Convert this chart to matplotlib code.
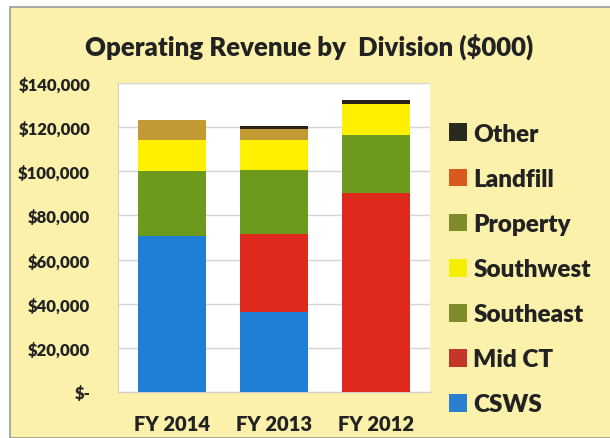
import matplotlib.pyplot as plt
from matplotlib.patches import Patch, Rectangle

plt.rcParams['font.family'] = ['Lato', 'DejaVu Sans']
plt.rcParams['font.weight'] = 'bold'

# values in $
years = ['FY 2014', 'FY 2013', 'FY 2012']
csws = [70500, 36400, 0]
mid_ct = [0, 35400, 90000]
southeast = [29500, 28700, 26400]
southwest = [14200, 13700, 14200]
prop = [9100, 4900, 0]
landfill = [0, 0, 0]
other = [0, 1500, 1800]

series = [
    ('CSWS', csws, '#1f7fd6', '#2a7fd0'),
    ('Mid CT', mid_ct, '#e0291d', '#c4352a'),
    ('Southeast', southeast, '#6b9a1c', '#808b2c'),
    ('Southwest', southwest, '#fff000', '#f6ee00'),
    ('Property', prop, '#c29a33', '#808b2c'),
    ('Landfill', landfill, '#e0601e', '#d95a1f'),
    ('Other', other, '#2a2218', '#2b2a1e'),
]

bg = '#fbf1ab'
fig = plt.figure(figsize=(6.1, 4.39), dpi=100)
fig.patch.set_facecolor('white')
frame = Rectangle((10 / 610, 0), 1, 1 - 8 / 439, transform=fig.transFigure,
                  facecolor=bg, edgecolor='#9a9a9a', linewidth=1.2, zorder=-5)
fig.patches.append(frame)

ax = fig.add_axes([118 / 610, 1 - 393 / 439, 312 / 610, 309 / 439])
ax.set_zorder(2)
ax.set_facecolor('white')

x = range(len(years))
bottom = [0, 0, 0]
for name, vals, col, _ in series:
    ax.bar(x, vals, width=0.667, bottom=bottom, color=col, edgecolor='none', zorder=3)
    bottom = [b + v for b, v in zip(bottom, vals)]

ax.set_ylim(0, 140000)
ax.set_xlim(-0.53, 2.53)
ax.set_yticks(range(0, 140001, 20000))
ax.set_yticklabels(['$-'] + ['${:,.0f}'.format(v) for v in range(20000, 140001, 20000)],
                   fontsize=12, color='#222222', fontweight='heavy')
ax.set_xticks(list(x))
ax.set_xticklabels(years, fontsize=14.5, color='#222222', fontweight='heavy')
ax.tick_params(length=0)
ax.tick_params(axis='y', pad=20)
ax.tick_params(axis='x', pad=16)
ax.grid(axis='y', color='#d4d4d4', linewidth=1, zorder=0)
for s in ax.spines.values():
    s.set_visible(False)
ax.spines['left'].set_visible(True)
ax.spines['left'].set_color('#cfcfcf')
ax.spines['bottom'].set_visible(True)
ax.spines['bottom'].set_color('#cfcfcf')

fig.text(309 / 610, 1 - 47 / 439, 'Operating Revenue by  Division ($000)',
         ha='center', va='center', fontsize=18.5, color='#222222', fontweight='heavy')

handles = [Patch(facecolor=lc, edgecolor='none', label=n) for n, _, _, lc in series[::-1]]
leg = fig.legend(handles=handles, loc='upper left', bbox_to_anchor=(427 / 610, 1 - 102 / 439),
                 frameon=False, prop={'size': 17.5, 'weight': 'heavy'}, handlelength=0.75,
                 handleheight=0.75, handletextpad=0.25, labelspacing=0.95, labelcolor='#222222')

plt.savefig('out.png', dpi=100, facecolor=fig.get_facecolor())
